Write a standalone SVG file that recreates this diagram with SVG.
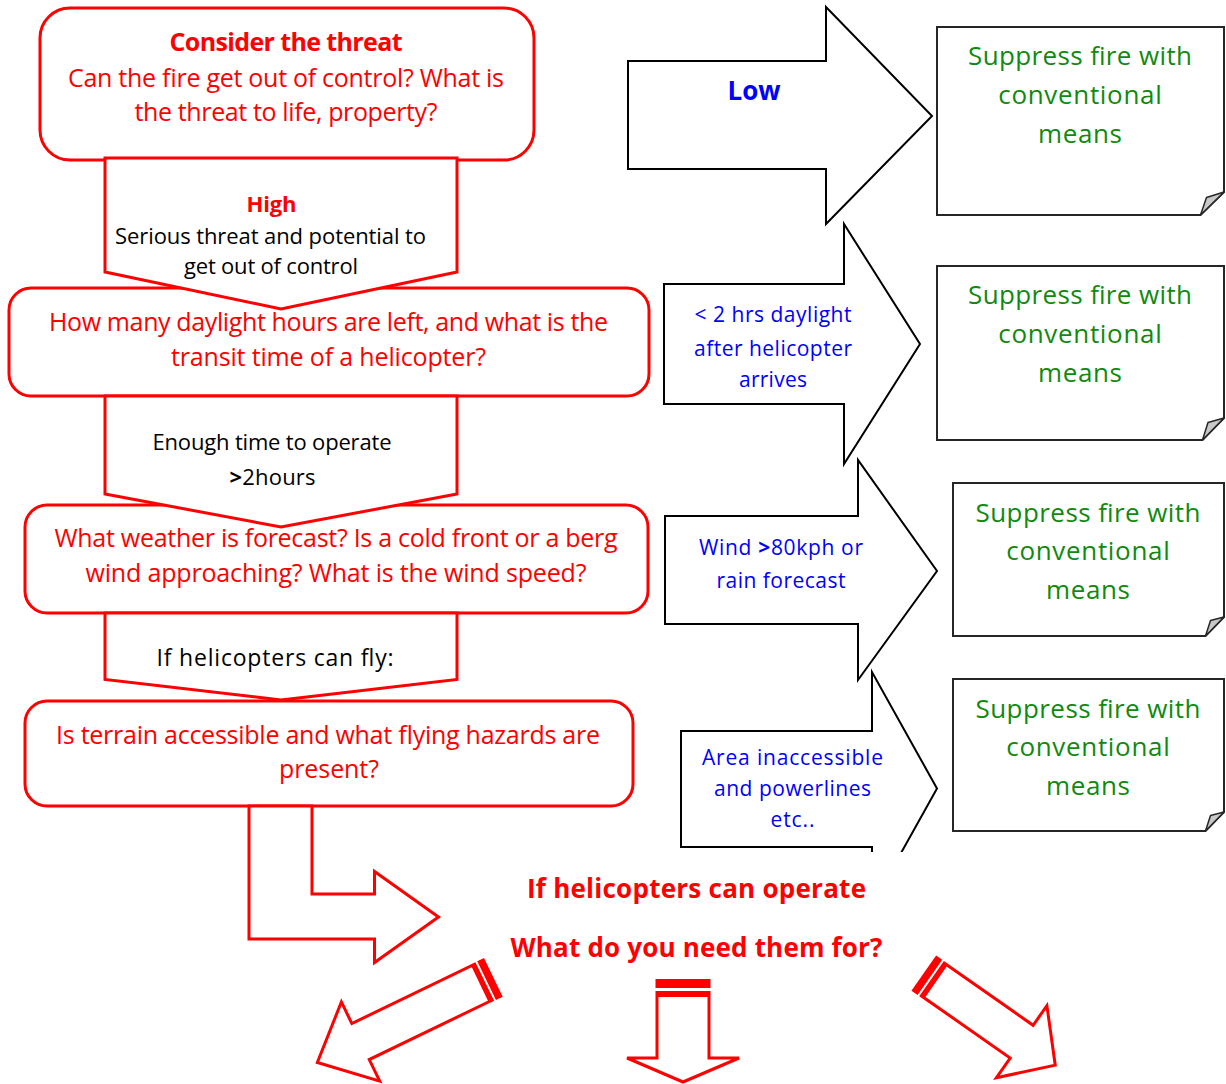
<svg xmlns="http://www.w3.org/2000/svg" width="1226" height="1084" viewBox="0 0 1226 1084">
<style>
text{font-family:"Open Sans","Liberation Sans",sans-serif;text-anchor:middle}
.box{fill:#fff;stroke:#ff0000;stroke-width:3}
.rarrow{fill:#fff;stroke:#ff0000;stroke-width:3;stroke-linejoin:miter}
.barrow{fill:#fff;stroke:#000;stroke-width:2}
.note{fill:#fff;stroke:#262626;stroke-width:2}
.fold{fill:#c8c8c8;stroke:#262626;stroke-width:1.5;stroke-linejoin:round}
.stripe{fill:#ff0000}
.red{fill:#ff0000;font-size:25px}
.blk{fill:#000;font-size:22px}
.blue{fill:#0000ff;font-size:21px}
.green{fill:#0f8a0f;font-size:26px}
.b{font-weight:bold}
.big{font-size:26px}
</style>
<defs>
<clipPath id="clip4"><rect x="600" y="600" width="400" height="252"/></clipPath>
</defs>

<g id="node-threat">
<rect class="box" x="40" y="8" width="494" height="152" rx="30"/>
<text class="red b" x="286" y="51" textLength="233">Consider the threat</text>
<text class="red" x="286" y="86.5" textLength="436">Can the fire get out of control? What is</text>
<text class="red" x="286" y="121" textLength="303">the threat to life, property?</text>
</g>

<g id="node-daylight">
<rect class="box" x="9" y="288" width="640" height="108" rx="22"/>
<text class="red" x="328.5" y="331" textLength="559">How many daylight hours are left, and what is the</text>
<text class="red" x="328.5" y="366" textLength="315">transit time of a helicopter?</text>
</g>

<g id="node-weather">
<rect class="box" x="25" y="505" width="623" height="108" rx="22"/>
<text class="red" x="336" y="547" textLength="563">What weather is forecast? Is a cold front or a berg</text>
<text class="red" x="336" y="582" textLength="501">wind approaching? What is the wind speed?</text>
</g>

<g id="node-terrain">
<rect class="box" x="25" y="701" width="608" height="105" rx="22"/>
<text class="red" x="328" y="743.5" textLength="544">Is terrain accessible and what flying hazards are</text>
<text class="red" x="329" y="778" textLength="100">present?</text>
</g>

<g id="node-conv1">
<path class="note" d="M937,27 H1224 V192 L1200.5,215 H937 Z"/>
<path class="fold" d="M1200.5,215 L1206.5,197.5 L1224,192 Z"/>
<text class="green" x="1080" y="65" textLength="224">Suppress fire with</text>
<text class="green" x="1080" y="104" textLength="163.5">conventional</text>
<text class="green" x="1080" y="143" textLength="84">means</text>
</g>

<g id="node-conv2">
<path class="note" d="M937,266 H1224 V418 L1202.5,440 H937 Z"/>
<path class="fold" d="M1202.5,440 L1208,422.5 L1224,418 Z"/>
<text class="green" x="1080" y="304" textLength="224">Suppress fire with</text>
<text class="green" x="1080" y="343" textLength="163.5">conventional</text>
<text class="green" x="1080" y="382" textLength="84">means</text>
</g>

<g id="node-conv3">
<path class="note" d="M953,483 H1224 V617 L1205.5,636 H953 Z"/>
<path class="fold" d="M1205.5,636 L1210.5,620.5 L1224,617 Z"/>
<text class="green" x="1088" y="522" textLength="225">Suppress fire with</text>
<text class="green" x="1088" y="560" textLength="163.5">conventional</text>
<text class="green" x="1088" y="598.5" textLength="84">means</text>
</g>

<g id="node-conv4">
<path class="note" d="M953,679 H1224 V812 L1205.5,831 H953 Z"/>
<path class="fold" d="M1205.5,831 L1210.5,815.5 L1224,812 Z"/>
<text class="green" x="1088" y="718" textLength="225">Suppress fire with</text>
<text class="green" x="1088" y="756" textLength="163.5">conventional</text>
<text class="green" x="1088" y="794.5" textLength="84">means</text>
</g>

<g id="connectors">
<g id="arrow-high">
<polygon class="rarrow" points="105,158 457,158 457,272 281,309 105,272"/>
<text class="blk b" x="271.5" y="212" style="fill:#ff0000" textLength="50">High</text>
<text class="blk" x="270.5" y="243.5" textLength="311">Serious threat and potential to</text>
<text class="blk" x="271" y="274" textLength="174">get out of control</text>
</g>
<g id="arrow-enough">
<polygon class="rarrow" points="105,396 457,396 457,494 281,527 105,494"/>
<text class="blk" x="272" y="449.5" textLength="239">Enough time to operate</text>
<text class="blk" x="272.5" y="485" textLength="86"><tspan class="b">&gt;</tspan>2hours</text>
</g>
<g id="arrow-fly">
<polygon class="rarrow" points="105,613 457,613 457,679.5 281,700 105,679.5"/>
<text class="blk" x="275" y="666" style="font-size:23px" textLength="237">If helicopters can fly:</text>
</g>
<g id="arrow-operate">
<polygon class="rarrow" points="312,806 312,894 374.5,894 374.5,871.5 438.5,917 374.5,962.5 374.5,939 249,939 249,806"/>
</g>

<g id="arrow-low">
<polygon class="barrow" points="628,61 826,61 826,7 932,116 826,224 826,169 628,169"/>
<text class="b" x="754" y="100" style="fill:#0000ff;font-size:26px" textLength="53">Low</text>
</g>
<g id="arrow-daylight">
<polygon class="barrow" points="664,284 844,284 844,224 920,344 844,464 844,404 664,404"/>
<text class="blue" x="773" y="322" textLength="157">&lt; 2 hrs daylight</text>
<text class="blue" x="773" y="356" textLength="158">after helicopter</text>
<text class="blue" x="773" y="387" textLength="68">arrives</text>
</g>
<g id="arrow-wind">
<polygon class="barrow" points="665,516 858,516 858,460 937,571 858,680 858,624 665,624"/>
<text class="blue" x="781" y="555" textLength="164">Wind <tspan class="b">&gt;</tspan>80kph or</text>
<text class="blue" x="781" y="587.5" textLength="129">rain forecast</text>
</g>
<g id="arrow-area">
<polygon class="barrow" clip-path="url(#clip4)" points="681,731 872,731 872,672 937,788.5 872,905 872,847 681,847"/>
<text class="blue" x="792.5" y="764.5" textLength="181">Area inaccessible</text>
<text class="blue" x="792.5" y="796" textLength="157">and powerlines</text>
<text class="blue" x="792.5" y="826.5" textLength="44">etc..</text>
</g>

<g id="arrow-out-left" transform="translate(492,978) rotate(154.2)">
<rect class="stripe" x="-1.5" y="-21.5" width="7.5" height="43"/>
<rect class="stripe" x="8" y="-21.5" width="3" height="43"/>
<polygon class="rarrow" points="12,-20 146,-20 146,-44 194,0 146,44 146,20 12,20"/>
</g>
<g id="arrow-out-down" transform="translate(683,979) rotate(90)">
<rect class="stripe" x="0" y="-27.5" width="9" height="55"/>
<rect class="stripe" x="12" y="-27.5" width="3" height="55"/>
<polygon class="rarrow" points="16.5,-26 79,-26 79,-56 103,0 79,56 79,26 16.5,26"/>
</g>
<g id="arrow-out-right" transform="translate(925,974) rotate(35)">
<rect class="stripe" x="-1.5" y="-21.5" width="7.5" height="43"/>
<rect class="stripe" x="8" y="-21.5" width="3" height="43"/>
<polygon class="rarrow" points="12,-20 118,-20 118,-44 159,0 118,44 118,20 12,20"/>
</g>
</g>

<g id="node-operate">
<text class="red b big" x="696.5" y="897.5" textLength="339">If helicopters can operate</text>
<text class="red b big" x="696.5" y="957" textLength="372">What do you need them for?</text>
</g>
</svg>
